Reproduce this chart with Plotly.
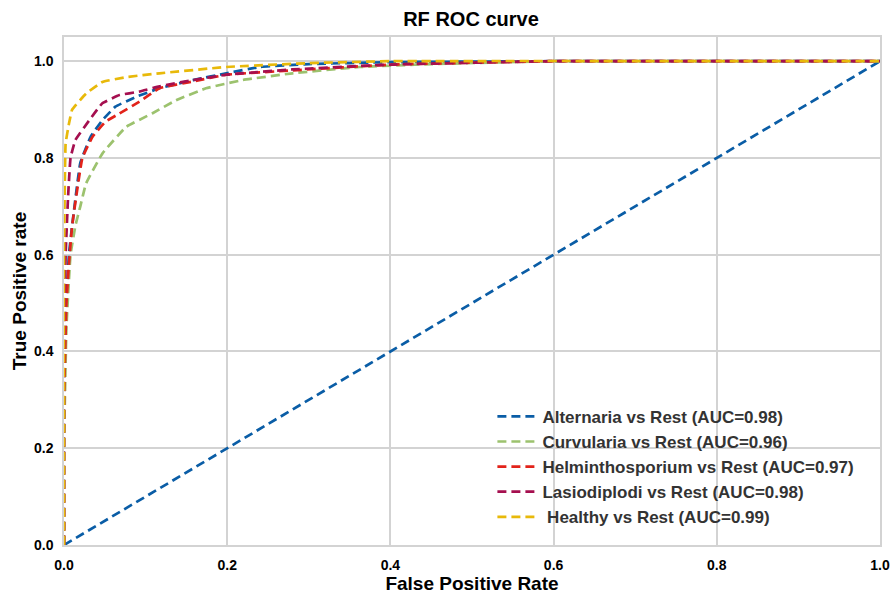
import plotly.graph_objects as go

names = ["Alternaria vs Rest (AUC=0.98)", "Curvularia vs Rest (AUC=0.96)",
         "Helminthosporium vs Rest (AUC=0.97)", "Lasiodiplodi vs Rest (AUC=0.98)",
         " Healthy vs Rest (AUC=0.99)"]
colors = ["#0a5da6", "#9cc26e", "#e2231a", "#a50f4f", "#e8b90a"]

alt_fpr = [0, 0, 0.003, 0.006, 0.01, 0.02, 0.033, 0.047, 0.063, 0.088, 0.117, 0.158, 0.199, 0.24, 0.3, 0.4, 0.6, 1.0]
alt_tpr = [0, 0.3, 0.5, 0.6, 0.66, 0.79, 0.845, 0.878, 0.906, 0.926, 0.944, 0.961, 0.975, 0.988, 0.994, 0.998, 1, 1]

cur_fpr = [0, 0, 0.003, 0.008, 0.014, 0.02, 0.027, 0.047, 0.076, 0.108, 0.137, 0.174, 0.219, 0.28, 0.362, 0.45, 0.6, 1]
cur_tpr = [0, 0.2, 0.45, 0.6, 0.66, 0.7, 0.747, 0.809, 0.864, 0.892, 0.919, 0.944, 0.961, 0.975, 0.988, 0.994, 1, 1]

hel_fpr = [0, 0, 0.003, 0.006, 0.01, 0.0225, 0.035, 0.051, 0.068, 0.092, 0.117, 0.158, 0.199, 0.28, 0.4, 0.6, 1]
hel_tpr = [0, 0.3, 0.5, 0.58, 0.66, 0.80, 0.844, 0.875, 0.892, 0.916, 0.944, 0.958, 0.972, 0.981, 0.993, 1, 1]

las_fpr = [0, 0, 0.002, 0.005, 0.008, 0.014, 0.031, 0.047, 0.068, 0.092, 0.117, 0.158, 0.199, 0.28, 0.4, 0.6, 1]
las_tpr = [0, 0.4, 0.6, 0.72, 0.8, 0.837, 0.878, 0.913, 0.93, 0.937, 0.948, 0.961, 0.972, 0.983, 0.993, 1, 1]

hea_fpr = [0, 0, 0.002, 0.006, 0.01, 0.027, 0.047, 0.076, 0.117, 0.199, 0.3, 0.4, 1]
hea_tpr = [0, 0.6, 0.83, 0.87, 0.90, 0.933, 0.957, 0.967, 0.975, 0.988, 0.996, 1, 1]

diag = [0, 1]
ticks = [0.0, 0.2, 0.4, 0.6, 0.8, 1.0]
tick_text = ["0.0", "0.2", "0.4", "0.6", "0.8", "1.0"]

curves = [(alt_fpr, alt_tpr), (cur_fpr, cur_tpr), (hel_fpr, hel_tpr), (las_fpr, las_tpr), (hea_fpr, hea_tpr)]

fig = go.Figure()
fig.add_trace(go.Scatter(x=diag, y=diag, mode="lines", showlegend=False,
                         line=dict(color=colors[0], width=2.7, dash="9px,5px")))
for (fx, ty), n, c in zip(curves, names, colors):
    fig.add_trace(go.Scatter(x=fx, y=ty, mode="lines", name="<b>%s</b>" % n,
                             line=dict(color=c, width=2.7, dash="9px,5px", shape="spline", smoothing=0.3)))

font = "Liberation Sans, Arial, sans-serif"
fig.update_layout(
    width=892, height=597,
    margin=dict(l=64, r=12, t=37, b=52),
    paper_bgcolor="white", plot_bgcolor="white",
    title=dict(text="<b>RF ROC curve</b>", x=0.528, xanchor="center", y=0.968, yanchor="middle",
               font=dict(family=font, size=20, color="black")),
    xaxis=dict(range=[0, 1], tickvals=ticks, ticktext=["<b>%s</b>" % t for t in tick_text],
               showgrid=True, gridcolor="#d3d3d3", gridwidth=1.5, zeroline=False,
               showline=True, mirror=True, linecolor="#d3d3d3", linewidth=1.5,
               ticks="outside", ticklen=6, tickcolor="rgba(0,0,0,0)", automargin=False,
               tickfont=dict(family=font, size=14, color="black"),
               title=dict(text="<b>False Positive Rate</b>", font=dict(family=font, size=19, color="black"), standoff=2)),
    yaxis=dict(range=[0, 1.05], tickvals=ticks, ticktext=["<b>%s</b>" % t for t in tick_text],
               showgrid=True, gridcolor="#d3d3d3", gridwidth=1.5, zeroline=False,
               showline=True, mirror=True, linecolor="#d3d3d3", linewidth=1.5,
               ticks="outside", ticklen=6, tickcolor="rgba(0,0,0,0)", automargin=False,
               tickfont=dict(family=font, size=14, color="black"),
               title=dict(text="<b>True Positive rate</b>", font=dict(family=font, size=19, color="black"), standoff=2)),
    legend=dict(x=0.525, y=0.02, xanchor="left", yanchor="bottom", bgcolor="rgba(255,255,255,0)",
                font=dict(family=font, size=17, color="#333333"), itemwidth=40, tracegroupgap=0),
)
fig.write_html("out.html")
